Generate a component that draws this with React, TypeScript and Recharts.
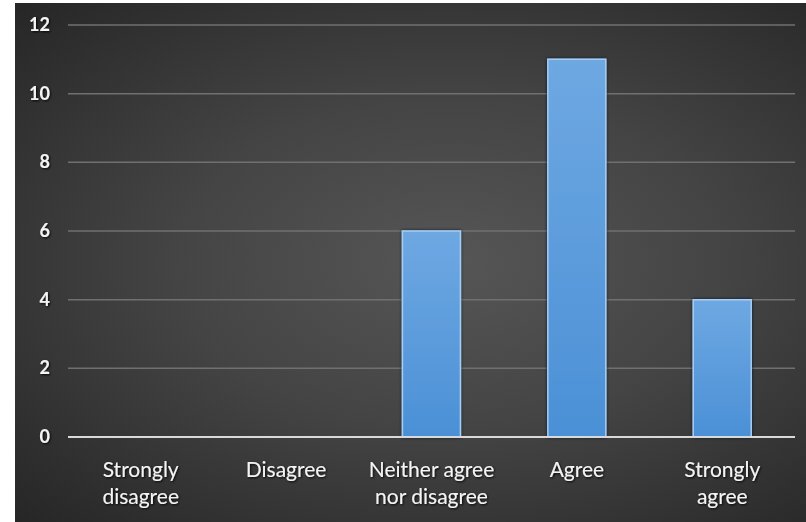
import React from "react";
import { BarChart, Bar, XAxis, YAxis, CartesianGrid } from "recharts";

// ---------------------------------------------------------------------------
// Data
// ---------------------------------------------------------------------------

const categories = [
  "Strongly\ndisagree",
  "Disagree",
  "Neither agree\nnor disagree",
  "Agree",
  "Strongly\nagree",
];
const responses = [0, 0, 6, 11, 4];
const yTicks = [0, 2, 4, 6, 8, 10, 12];

const data = categories.map((c, i) => ({ name: c, value: responses[i] }));

const FONT = "Lato, 'Open Sans', sans-serif";

// ---------------------------------------------------------------------------
// Ticks
// ---------------------------------------------------------------------------

// eslint-disable-next-line @typescript-eslint/no-explicit-any
function CategoryTick({ x, y, payload }: Record<string, any>) {
  const lines = String(payload.value).split("\n");
  return (
    <text
      x={x}
      y={y + 32}
      textAnchor="middle"
      fill="#f4f4f4"
      fontSize={21}
      fontFamily={FONT}
      filter="url(#txtShadow)"
    >
      {lines.map((l, i) => (
        <tspan key={i} x={x} dy={i === 0 ? 0 : 27}>
          {l}
        </tspan>
      ))}
    </text>
  );
}

// eslint-disable-next-line @typescript-eslint/no-explicit-any
function ValueTick({ x, y, payload }: Record<string, any>) {
  return (
    <text
      x={x - 16}
      y={y + 6}
      textAnchor="end"
      fill="#f4f4f4"
      fontSize={18}
      fontWeight="bold"
      fontFamily={FONT}
      filter="url(#txtShadow)"
    >
      {payload.value}
    </text>
  );
}

// ---------------------------------------------------------------------------
// Component
// ---------------------------------------------------------------------------

export default function App() {
  return (
    <div
      style={{
        position: "absolute",
        top: 0,
        left: 0,
        width: 806,
        height: 522,
        background: "#fff",
        overflow: "hidden",
      }}
    >
      <div
        style={{
          position: "absolute",
          left: 15,
          top: 3,
          right: 0,
          bottom: 0,
          background:
            "radial-gradient(ellipse at 55% 50%, #565656 0%, #444 45%, #2e2e2e 85%, #262626 100%)",
        }}
      />
      <div style={{ position: "absolute", left: 0, top: 0 }}>
        <BarChart
          width={806}
          height={522}
          data={data}
          margin={{ top: 25, right: 11, left: 0, bottom: 0 }}
          barCategoryGap="30%"
        >
          <defs>
            <linearGradient id="barFill" x1="0" y1="0" x2="0" y2="1">
              <stop offset="0%" stopColor="#6ea8e2" />
              <stop offset="100%" stopColor="#4b90d6" />
            </linearGradient>
            <filter id="txtShadow" x="-20%" y="-20%" width="140%" height="140%">
              <feDropShadow dx="1" dy="1" stdDeviation="1" floodColor="#000" floodOpacity="0.9" />
            </filter>
            <filter id="barShadow" x="-20%" y="-20%" width="140%" height="140%">
              <feDropShadow dx="0" dy="0" stdDeviation="1.5" floodColor="#0a1a2e" floodOpacity="1" />
            </filter>
          </defs>
          <CartesianGrid vertical={false} stroke="#707070" strokeWidth={1.5} />
          <XAxis
            dataKey="name"
            interval={0}
            height={85}
            tickLine={false}
            axisLine={{ stroke: "#d9d9d9", strokeWidth: 2 }}
            tick={<CategoryTick />}
          />
          <YAxis
            width={68}
            domain={[0, 12]}
            ticks={yTicks}
            tickLine={false}
            axisLine={false}
            tickSize={0}
            tick={<ValueTick />}
          />
          <Bar
            dataKey="value"
            fill="url(#barFill)"
            stroke="#a9cdf0"
            strokeWidth={1.5}
            filter="url(#barShadow)"
            isAnimationActive={false}
          />
        </BarChart>
      </div>
    </div>
  );
}
